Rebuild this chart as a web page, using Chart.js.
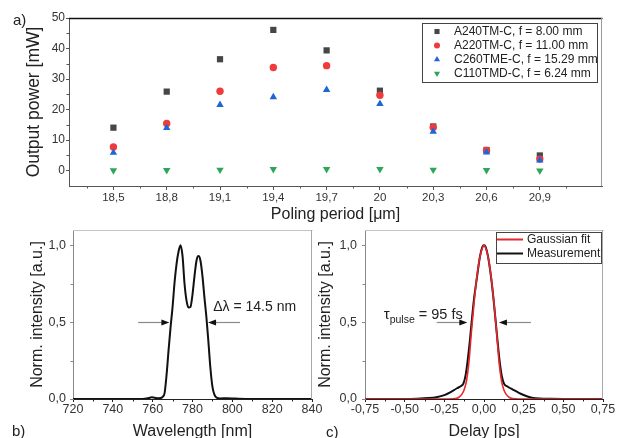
<!DOCTYPE html>
<html><head><meta charset="utf-8">
<script src="https://cdn.jsdelivr.net/npm/chart.js@4.4.1/dist/chart.umd.min.js"></script>
<style>
html,body{margin:0;padding:0;width:622px;height:438px;overflow:hidden;background:#fff;}
canvas{position:absolute;}
.lbl{position:absolute;font:15px "Liberation Sans",Arial,sans-serif;color:#222;line-height:18px;}
</style></head><body>
<canvas id="ca" width="622" height="226" style="left:0;top:0"></canvas>
<canvas id="cb" width="340" height="222" style="left:0;top:222px"></canvas>
<canvas id="cc" width="312" height="222" style="left:310px;top:222px"></canvas>
<div class="lbl" style="left:13px;top:11px">a)</div>
<div class="lbl" style="left:12px;top:422px">b)</div>
<div class="lbl" style="left:326px;top:423px">c)</div>
<script>
// ---- Panel a data ----
const periods   = [18.5, 18.8, 19.1, 19.4, 19.7, 20, 20.3, 20.6, 20.9];
const powerA240 = [14.1, 25.9, 36.5, 46.1, 39.4, 26.2, 14.5, 6.8, 5.0];
const powerA220 = [7.8, 15.5, 26.0, 33.8, 34.4, 24.7, 14.2, 6.6, 3.8];
const powerC260 = [5.9, 14.0, 21.6, 24.1, 26.5, 21.9, 12.8, 6.0, 3.4];
const powerC110 = [0.1, 0.2, 0.3, 0.5, 0.5, 0.5, 0.3, 0.2, 0.0];
const labelsA = ['A240TM-C, f = 8.00 mm', 'A220TM-C, f = 11.00 mm', 'C260TME-C, f = 15.29 mm', 'C110TMD-C, f = 6.24 mm'];
const xTicksA = [18.5, 18.8, 19.1, 19.4, 19.7, 20, 20.3, 20.6, 20.9];
const yTicksA = [0, 10, 20, 30, 40, 50];
const minorXA = [18.35, 18.65, 18.95, 19.25, 19.55, 19.85, 20.15, 20.45, 20.75, 21.05];
const minorYA = [5, 15, 25, 35, 45];

// ---- Panel b data ----
const wavelength = [720, 740, 755, 758, 759.5, 761, 763, 764, 765, 766, 767, 768, 769, 770, 771, 772, 773, 774, 775, 776, 777, 778, 779, 780, 781, 782, 783, 784, 785, 786, 787, 788, 789, 790, 791, 792, 794, 797, 800, 803, 810, 840];
const spectrum   = [0, 0, 0, 0.006, 0.011, 0.008, 0.005, 0.006, 0.014, 0.04, 0.16, 0.32, 0.47, 0.6, 0.76, 0.88, 0.96, 1.0, 0.93, 0.75, 0.64, 0.595, 0.6, 0.68, 0.8, 0.9, 0.93, 0.9, 0.8, 0.66, 0.53, 0.37, 0.2, 0.08, 0.028, 0.01, 0.004, 0.005, 0.004, 0.002, 0, 0];
const xTicksB = [720, 740, 760, 780, 800, 820, 840];
const minorXB = [730, 750, 770, 790, 810, 830];
const yTicksBC = [0, 0.5, 1.0];
const minorYBC = [0.25, 0.75];

// ---- Panel c data ----
const delayFit = [-0.75, -0.22, -0.18, -0.16, -0.14, -0.125, -0.11, -0.095, -0.08, -0.065, -0.05, -0.035, -0.02, 0, 0.02, 0.035, 0.05, 0.065, 0.08, 0.095, 0.11, 0.125, 0.14, 0.16, 0.18, 0.22, 0.75];
const gaussFit = [0, 0, 0.003, 0.01, 0.03, 0.06, 0.12, 0.24, 0.43, 0.6, 0.75, 0.87, 0.95, 1.0, 0.95, 0.87, 0.75, 0.6, 0.43, 0.24, 0.12, 0.06, 0.03, 0.01, 0.003, 0, 0];
const delayMeas = [-0.75, -0.5, -0.42, -0.35, -0.3, -0.25, -0.21, -0.17, -0.145, -0.13, -0.115, -0.105, -0.09, -0.078, -0.062, -0.046, -0.025, -0.01, 0, 0.01, 0.025, 0.046, 0.06, 0.074, 0.087, 0.1, 0.112, 0.126, 0.15, 0.184, 0.22, 0.25, 0.279, 0.31, 0.35, 0.42, 0.5, 0.75];
const measured  = [0, 0, 0.002, 0.006, 0.012, 0.025, 0.045, 0.07, 0.085, 0.1, 0.16, 0.233, 0.37, 0.5, 0.66, 0.78, 0.93, 0.99, 1.0, 0.99, 0.93, 0.78, 0.65, 0.5, 0.36, 0.233, 0.15, 0.1, 0.08, 0.06, 0.04, 0.026, 0.015, 0.007, 0.003, 0.001, 0, 0];
const xTicksC = [-0.75, -0.5, -0.25, 0, 0.25, 0.5, 0.75];
const minorXC = [-0.625, -0.375, -0.125, 0.125, 0.375, 0.625];

Chart.defaults.font.family = '"Liberation Sans", Arial, Helvetica, sans-serif';
Chart.defaults.color = '#333';
Chart.defaults.animation = false;

const zip = (xs, ys) => xs.map((x, i) => ({x: x, y: ys[i]}));
const fixTicks = arr => (s) => { s.ticks = arr.map(v => ({value: v})); };
const comma = d => (v) => (d == null ? String(v) : Number(v).toFixed(d)).replace('.', ',');

function drawMarker(ctx, style, x, y, r, color, rot) {
  ctx.fillStyle = color;
  ctx.beginPath();
  if (style === 'rect') { const s = r * Math.SQRT1_2; ctx.rect(x - s, y - s, 2 * s, 2 * s); }
  else if (style === 'circle') { ctx.arc(x, y, r, 0, Math.PI * 2); }
  else if (style === 'triangle') {
    const k = rot ? -1 : 1;
    ctx.moveTo(x, y - k * r);
    ctx.lineTo(x + 0.866 * r, y + k * 0.5 * r);
    ctx.lineTo(x - 0.866 * r, y + k * 0.5 * r);
    ctx.closePath();
  }
  ctx.fill();
}

const deco = {
  id: 'deco',
  afterDraw(chart, args, o) {
    const ctx = chart.ctx, a = chart.chartArea, xs = chart.scales.x, ys = chart.scales.y;
    ctx.save();
    const line = (x1, y1, x2, y2, c, w) => { ctx.strokeStyle = c; ctx.lineWidth = w || 1; ctx.beginPath(); ctx.moveTo(x1, y1); ctx.lineTo(x2, y2); ctx.stroke(); };
    // frame top & right
    line(a.left, a.top + 0.5, a.right + 0.5, a.top + 0.5, o.topColor, o.topWidth);
    line(a.right - 0.5, a.top, a.right - 0.5, a.bottom, o.rightColor, 1);
    // minor ticks
    (o.minorX || []).forEach(v => { const p = Math.round(xs.getPixelForValue(v)) + 0.5; line(p, a.bottom, p, a.bottom + 2.5, o.xColor); });
    (o.minorY || []).forEach(v => { const p = Math.round(ys.getPixelForValue(v)) + 0.5; line(a.left, p, a.left - 2.5, p, o.yColor); });
    // arrows
    (o.arrows || []).forEach(ar => {
      const x1 = xs.getPixelForValue(ar.from), x2 = xs.getPixelForValue(ar.to), y = Math.round(ys.getPixelForValue(ar.y)) + 0.5;
      const d = Math.sign(x2 - x1);
      line(x1, y, x2 - d * 6, y, '#8a8a8a', 1.2);
      ctx.fillStyle = '#111';
      ctx.beginPath(); ctx.moveTo(x2, y); ctx.lineTo(x2 - d * 8, y - 3); ctx.lineTo(x2 - d * 8, y + 3); ctx.closePath(); ctx.fill();
    });
    // texts
    (o.texts || []).forEach(t => {
      let x = xs.getPixelForValue(t.x); const y = ys.getPixelForValue(t.y);
      ctx.textBaseline = 'middle'; ctx.textAlign = 'left'; ctx.fillStyle = '#222';
      t.parts.forEach(pt => {
        ctx.font = pt.size + 'px "Liberation Sans", Arial, sans-serif';
        ctx.fillText(pt.s, x, y + (pt.dy || 0));
        x += ctx.measureText(pt.s).width;
      });
    });
    // legend
    const L = o.legend;
    if (L) {
      ctx.strokeStyle = '#444'; ctx.lineWidth = 1;
      ctx.strokeRect(L.x + 0.5, L.y + 0.5, L.w, L.h);
      ctx.font = '12px "Liberation Sans", Arial, sans-serif';
      ctx.textBaseline = 'middle'; ctx.textAlign = 'left';
      chart.data.datasets.forEach((ds, i) => {
        const y = L.y0 + i * L.dy;
        if (L.type === 'marker') drawMarker(ctx, ds.pointStyle, L.mx, y, ds.pointRadius * 0.82, ds.pointBackgroundColor, ds.pointRotation);
        else line(L.mx, y, L.mx + L.lw, y, ds.borderColor, 2);
        ctx.fillStyle = '#222';
        ctx.fillText(ds.label, L.tx, y);
      });
    }
    ctx.restore();
  }
};

const fontTick = {size: 12.5};
const fontTitle = {size: 16};

// ---------- Chart a ----------
const ptDs = (label, vals, style, r, color, order, rot) => ({
  label: label, data: zip(periods, vals), pointStyle: style, pointRadius: r, pointRotation: rot || 0,
  pointBackgroundColor: color, backgroundColor: color, pointBorderWidth: 0, borderWidth: 0, showLine: false, order: order
});
new Chart(document.getElementById('ca'), {
  type: 'scatter',
  data: { datasets: [
    ptDs(labelsA[0], powerA240, 'rect', 4.4, '#464646', 4),
    ptDs(labelsA[1], powerA220, 'circle', 3.7, '#ef3b3b', 3),
    ptDs(labelsA[2], powerC260, 'triangle', 4.3, '#1e66d6', 2),
    ptDs(labelsA[3], powerC110, 'triangle', 4.3, '#2ea65a', 1, 180)
  ]},
  options: {
    responsive: false, events: [],
    layout: { padding: {left: 24, top: 18, right: 20, bottom: 0} },
    plugins: { legend: {display: false}, tooltip: {enabled: false},
      deco: { topColor: '#111', topWidth: 1.5, rightColor: '#999', xColor: '#555', yColor: '#555',
        minorX: minorXA, minorY: minorYA,
        legend: { type: 'marker', x: 422, y: 23, w: 175, h: 59, y0: 31.5, dy: 14, mx: 437, tx: 454 } } },
    scales: {
      x: { type: 'linear', min: 18.25, max: 21.25, afterBuildTicks: fixTicks(xTicksA),
        afterFit: s => { s.height = 40; s.paddingLeft = s.paddingRight = 0; },
        grid: { drawOnChartArea: false, tickLength: 4, tickColor: '#555' }, border: { color: '#555' },
        ticks: { padding: 1, font: {size: 11.5}, color: '#333', callback: comma(null), maxRotation: 0, autoSkip: false },
        title: { display: true, text: 'Poling period [\u03bcm]', font: fontTitle, color: '#222', padding: {top: 0, bottom: 2} } },
      y: { type: 'linear', min: -5, max: 50, afterBuildTicks: fixTicks(yTicksA),
        afterFit: s => { s.width = 45; s.paddingTop = s.paddingBottom = 0; },
        grid: { drawOnChartArea: false, tickLength: 3, tickColor: '#555' }, border: { color: '#555' },
        ticks: { padding: 1, font: {size: 12}, color: '#333', callback: comma(null) },
        title: { display: true, text: 'Output power [mW]', font: {size: 17.5}, color: '#222', padding: {top: 0, bottom: 0} } }
    }
  },
  plugins: [deco]
});

// ---------- Chart b ----------
new Chart(document.getElementById('cb'), {
  type: 'scatter',
  data: { datasets: [{ label: 'Spectrum', data: zip(wavelength, spectrum), showLine: true, borderColor: '#111', borderWidth: 2,
    pointRadius: 0, cubicInterpolationMode: 'monotone', fill: false }] },
  options: {
    responsive: false, events: [],
    layout: { padding: {left: 28, top: 8, right: 28, bottom: 0} },
    plugins: { legend: {display: false}, tooltip: {enabled: false},
      deco: { topColor: '#c4c4c4', topWidth: 1, rightColor: '#a8a8a8', xColor: '#222', yColor: '#888',
        minorX: minorXB, minorY: minorYBC,
        arrows: [ {from: 752.7, to: 768.4, y: 0.5}, {from: 803.9, to: 787.8, y: 0.5} ],
        texts: [ {x: 790.4, y: 0.595, parts: [{s: '\u0394\u03bb = 14.5 nm', size: 14}]} ] } },
    scales: {
      x: { type: 'linear', min: 720, max: 840, afterBuildTicks: fixTicks(xTicksB),
        afterFit: s => { s.height = 45; s.paddingLeft = s.paddingRight = 0; },
        grid: { drawOnChartArea: false, tickLength: 3, tickColor: '#222' }, border: { color: '#222' },
        ticks: { padding: 0, font: fontTick, color: '#333', maxRotation: 0, autoSkip: false },
        title: { display: true, text: 'Wavelength [nm]', font: fontTitle, color: '#222', padding: {top: 0, bottom: 3} } },
      y: { type: 'linear', min: 0, max: 1.1, afterBuildTicks: fixTicks(yTicksBC),
        afterFit: s => { s.width = 45; s.paddingTop = s.paddingBottom = 0; },
        grid: { drawOnChartArea: false, tickLength: 3, tickColor: '#888' }, border: { color: '#888' },
        ticks: { padding: 4, font: fontTick, color: '#333', callback: comma(1) },
        title: { display: true, text: 'Norm. intensity [a.u.]', font: fontTitle, color: '#222', padding: {top: 0, bottom: 0} } }
    }
  },
  plugins: [deco]
});

// ---------- Chart c ----------
new Chart(document.getElementById('cc'), {
  type: 'scatter',
  data: { datasets: [
    { label: 'Gaussian fit', data: zip(delayFit, gaussFit), showLine: true, borderColor: '#e8262c', borderWidth: 1.6,
      pointRadius: 0, cubicInterpolationMode: 'monotone', fill: false, order: 1 },
    { label: 'Measurement', data: zip(delayMeas, measured), showLine: true, borderColor: '#111', borderWidth: 2,
      pointRadius: 0, cubicInterpolationMode: 'monotone', fill: false, order: 2 }
  ]},
  options: {
    responsive: false, events: [],
    layout: { padding: {left: 6, top: 8, right: 19, bottom: 0} },
    plugins: { legend: {display: false}, tooltip: {enabled: false},
      deco: { topColor: '#c4c4c4', topWidth: 1, rightColor: '#a8a8a8', xColor: '#222', yColor: '#888',
        minorX: minorXC, minorY: minorYBC,
        arrows: [ {from: -0.298, to: -0.105, y: 0.5}, {from: 0.296, to: 0.094, y: 0.5} ],
        texts: [ {x: -0.632, y: 0.548, parts: [{s: '\u03c4', size: 15}, {s: 'pulse', size: 10.5, dy: 5}, {s: ' = 95 fs', size: 14.5}]} ],
        legend: { type: 'line', x: 186, y: 10, w: 105, h: 31, y0: 17.5, dy: 14, mx: 187, lw: 26, tx: 217 } } },
    scales: {
      x: { type: 'linear', min: -0.75, max: 0.75, afterBuildTicks: fixTicks(xTicksC),
        afterFit: s => { s.height = 45; s.paddingLeft = s.paddingRight = 0; },
        grid: { drawOnChartArea: false, tickLength: 3, tickColor: '#222' }, border: { color: '#222' },
        ticks: { padding: 0, font: fontTick, color: '#333', callback: comma(2), maxRotation: 0, autoSkip: false },
        title: { display: true, text: 'Delay [ps]', font: fontTitle, color: '#222', padding: {top: 0, bottom: 3} } },
      y: { type: 'linear', min: 0, max: 1.1, afterBuildTicks: fixTicks(yTicksBC),
        afterFit: s => { s.width = 49; s.paddingTop = s.paddingBottom = 0; },
        grid: { drawOnChartArea: false, tickLength: 3, tickColor: '#888' }, border: { color: '#888' },
        ticks: { padding: 5, font: fontTick, color: '#333', callback: comma(1) },
        title: { display: true, text: 'Norm. intensity [a.u.]', font: fontTitle, color: '#222', padding: {top: 0, bottom: 0} } }
    }
  },
  plugins: [deco]
});
</script>
</body></html>
